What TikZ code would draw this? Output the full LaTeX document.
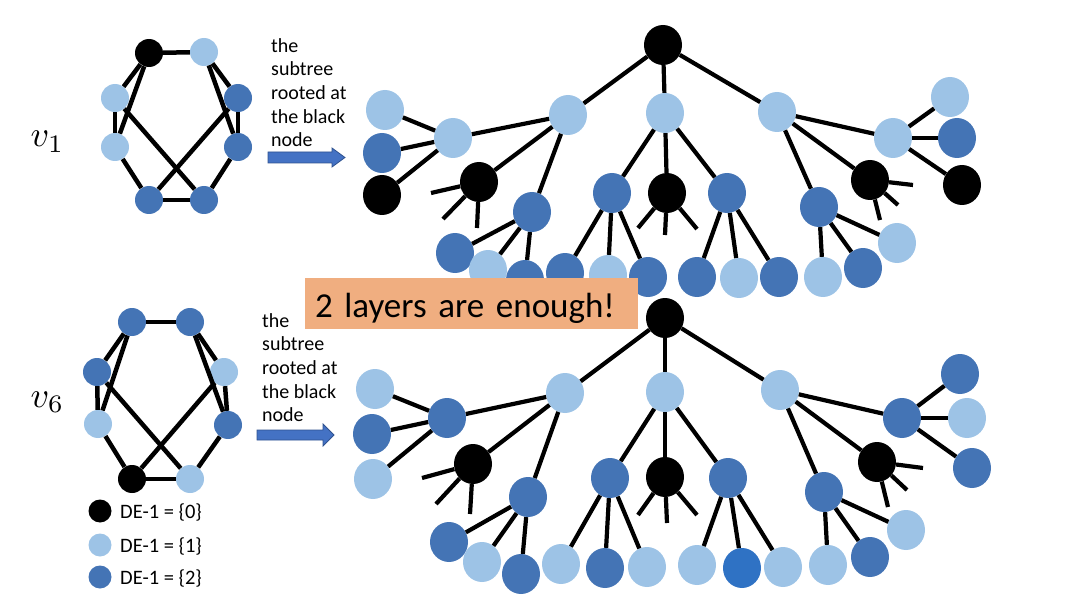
\documentclass[tikz,border=0pt]{standalone}
\usepackage{fontspec}
\setmainfont{Carlito}
\usepackage{tikz}
\usetikzlibrary{shapes.geometric}
\definecolor{deone}{HTML}{9DC3E6}
\definecolor{detwo}{HTML}{4474B5}
\definecolor{detwob}{HTML}{2F72C4}
\definecolor{arrowblue}{HTML}{4472C4}
\definecolor{arrowline}{HTML}{2F528F}
\definecolor{notefill}{HTML}{F0AE80}

\tikzset{
  tnode/.style={ellipse, minimum width=38pt, minimum height=40pt, inner sep=0pt},
  gnode/.style={circle, minimum size=28pt, inner sep=0pt},
  lnode/.style={circle, minimum size=23pt, inner sep=0pt},
  de0/.style={fill=black},
  de1/.style={fill=deone},
  de2/.style={fill=detwo},
  de2b/.style={fill=detwob},
  edge/.style={line width=4.2pt},
  gedge/.style={line width=4.5pt},
  bigarrow/.style={fill=arrowblue, draw=arrowline, line width=0.8pt},
  caption/.style={align=left, anchor=north west, inner sep=0pt,
    font=\fontsize{20}{23.7}\selectfont},
  legend/.style={anchor=base west, inner sep=0pt, font=\fontsize{20.5}{24}\selectfont},
  vlabel/.style={anchor=base west, inner sep=0pt, scale=3.6},
}

\begin{document}
\begin{tikzpicture}[x=1pt, y=-1pt]
    \useasboundingbox (0,0) rectangle (1080,607);

    % vertex labels
    \node[vlabel] (vone) at (30,147) {$v_1$};
    \node[vlabel] (vsix) at (30,407) {$v_6$};

    % graph seen from v1
    \node[gnode,de0] (gTL) at (149,53) {};
    \node[gnode,de1] (gTR) at (204,52) {};
    \node[gnode,de1] (gLU) at (115,98) {};
    \node[gnode,de1] (gLL) at (115,147) {};
    \node[gnode,de2] (gRU) at (238,98) {};
    \node[gnode,de2] (gRL) at (238,147) {};
    \node[gnode,de2] (gBL) at (149,200) {};
    \node[gnode,de2] (gBR) at (204,200) {};
    \foreach \a/\b in {TL/TR, TL/LU, TL/LL, TR/RU, TR/RL, LU/LL, RU/RL,
                       LU/BR, RU/BL, LL/BL, RL/BR, BL/BR}
        \draw[gedge] (g\a) -- (g\b);

    % graph seen from v6
    \node[gnode,de2] (hTL) at (132,322) {};
    \node[gnode,de2] (hTR) at (190,322) {};
    \node[gnode,de2] (hLU) at (97,372) {};
    \node[gnode,de1] (hLL) at (98,424) {};
    \node[gnode,de1] (hRU) at (224,372) {};
    \node[gnode,de2] (hRL) at (228,425) {};
    \node[gnode,de0] (hBL) at (132,479) {};
    \node[gnode,de1] (hBR) at (190,479) {};
    \foreach \a/\b in {TL/TR, TL/LU, TL/LL, TR/RU, TR/RL, LU/LL, RU/RL,
                       LU/BR, RU/BL, LL/BL, RL/BR, BL/BR}
        \draw[gedge] (h\a) -- (h\b);

    % legend
    \node[lnode,de0] (key0) at (100,511) {};
    \node[lnode,de1] (key1) at (100,545) {};
    \node[lnode,de2] (key2) at (100,577) {};
    \node[legend] (txt0) at (120,518) {DE-1 = \{0\}};
    \node[legend] (txt1) at (120,552) {DE-1 = \{1\}};
    \node[legend] (txt2) at (120,584) {DE-1 = \{2\}};

    % captions and arrows
    \node[caption] (capone) at (271,38) {the\\subtree\\rooted at\\the black\\node};
    \node[caption] (capsix) at (262,313) {the\\subtree\\rooted at\\the black\\node};
    \draw[bigarrow] (268,152) -- (332,152) -- (332,148) -- (345,157.5)
        -- (332,167) -- (332,163) -- (268,163) -- cycle;
    \draw[bigarrow] (257,430) -- (323,430) -- (323,424) -- (334,435)
        -- (323,446) -- (323,440) -- (257,440) -- cycle;

    % subtree of v1
    \node[tnode,de0] (tR) at (663,45) {};
    \node[tnode,de1] (tA) at (568,115) {};
    \node[tnode,de1] (tB) at (665,113) {};
    \node[tnode,de1] (tC) at (777,112) {};
    \node[tnode,de1] (tA1) at (453,138) {};
    \node[tnode,de0] (tA2) at (479,182) {};
    \node[tnode,de2] (tA3) at (532,212) {};
    \node[tnode,de2] (tB1) at (612,193) {};
    \node[tnode,de0] (tB2) at (667,193) {};
    \node[tnode,de2] (tB3) at (727,193) {};
    \node[tnode,de1] (tC1) at (893,138) {};
    \node[tnode,de0] (tC2) at (870,180) {};
    \node[tnode,de2] (tC3) at (819,207) {};
    \foreach \a/\b in {R/A, R/B, R/C, A/A1, A/A2, A/A3, B/B1, B/B2, B/B3,
                       C/C1, C/C2, C/C3}
        \draw[edge] (t\a) -- (t\b);
    \foreach \p/\s/\x/\y [count=\i] in {
        tA1/de1/385/110, tA1/de2/382/153, tA1/de0/382/195,
        tA3/de2/455/253, tA3/de1/488/270, tA3/de2/525/280,
        tB1/de2/565/273, tB1/de1/608/275, tB1/de2/648/277,
        tB3/de2/697/277, tB3/de1/739/278, tB3/de2/779/277,
        tC1/de1/950/97, tC1/de2/957/138, tC1/de0/962/185,
        tC3/de1/823/277, tC3/de2/863/268, tC3/de1/897/243} {
        \node[tnode,\s] (tl\i) at (\x,\y) {};
        \draw[edge] (\p) -- (tl\i);
    }
    \foreach \p/\x/\y [count=\i] in {
        tA2/431/193, tA2/443/219, tA2/477/228,
        tB2/638/228, tB2/665/235, tB2/697/229,
        tC2/913/185, tC2/898/205, tC2/880/220} {
        \coordinate (ts\i) at (\x,\y);
        \draw[edge] (\p) -- (ts\i);
    }

    % note
    \node[fill=notefill, text width=313pt, inner xsep=10pt, inner ysep=0pt,
          minimum height=51pt, text height=27pt, text depth=0pt, align=left,
          font=\fontsize{35}{40}\selectfont] (enough) at (471.5,303.5) {2 layers are enough!};

    % subtree of v6
    \node[tnode,de0] (bR) at (665,318) {};
    \node[tnode,de1] (bA) at (565,393) {};
    \node[tnode,de1] (bB) at (665,392) {};
    \node[tnode,de1] (bC) at (780,390) {};
    \node[tnode,de2] (bA1) at (447,418) {};
    \node[tnode,de0] (bA2) at (473,464) {};
    \node[tnode,de2] (bA3) at (528,497) {};
    \node[tnode,de2] (bB1) at (610,478) {};
    \node[tnode,de0] (bB2) at (665,477) {};
    \node[tnode,de2] (bB3) at (728,478) {};
    \node[tnode,de2] (bC1) at (902,418) {};
    \node[tnode,de0] (bC2) at (877,462) {};
    \node[tnode,de2] (bC3) at (824,492) {};
    \foreach \a/\b in {R/A, R/B, R/C, A/A1, A/A2, A/A3, B/B1, B/B2, B/B3,
                       C/C1, C/C2, C/C3}
        \draw[edge] (b\a) -- (b\b);
    \foreach \p/\s/\x/\y [count=\i] in {
        bA1/de1/375/389, bA1/de2/372/434, bA1/de1/373/479,
        bA3/de2/449/542, bA3/de1/482/562, bA3/de2/521/574,
        bB1/de1/561/564, bB1/de2/605/568, bB1/de1/647/567,
        bB3/de1/697/565, bB3/de2b/742/568, bB3/de1/783/567,
        bC1/de2/960/374, bC1/de1/967/418, bC1/de2/972/468,
        bC3/de1/828/565, bC3/de2/870/557, bC3/de1/906/530} {
        \node[tnode,\s] (bl\i) at (\x,\y) {};
        \draw[edge] (\p) -- (bl\i);
    }
    \foreach \p/\x/\y [count=\i] in {
        bA2/422/478, bA2/436/504, bA2/470/514,
        bB2/638/515, bB2/667/523, bB2/697/515,
        bC2/923/468, bC2/907/490, bC2/888/507} {
        \coordinate (bs\i) at (\x,\y);
        \draw[edge] (\p) -- (bs\i);
    }
\end{tikzpicture}
\end{document}
